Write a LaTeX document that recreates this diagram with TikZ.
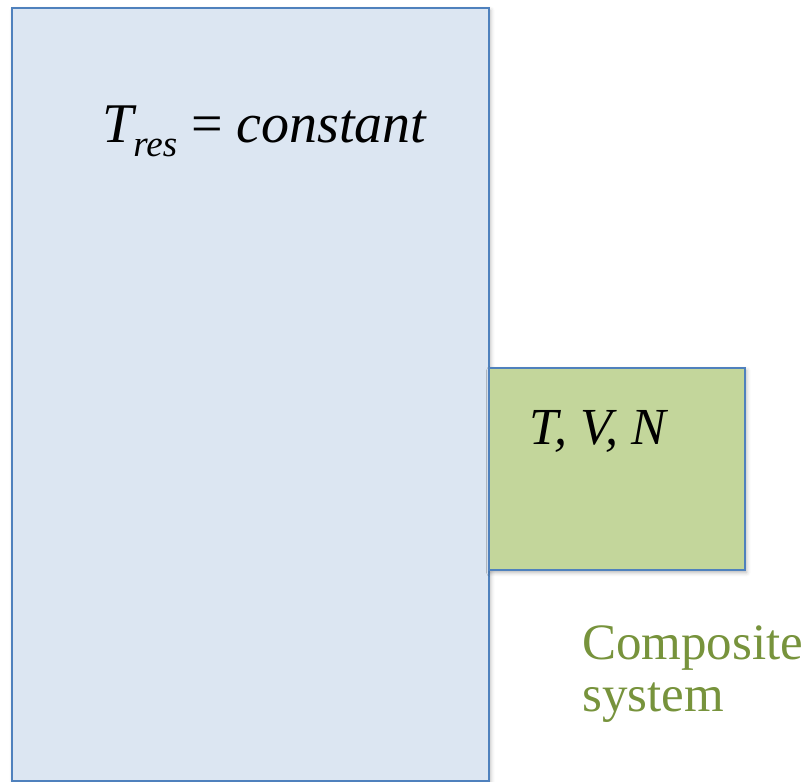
\documentclass[tikz,border=0pt]{standalone}
\usepackage{fontspec}
\setmainfont{Liberation Serif}
\usetikzlibrary{shadows.blur}
\definecolor{resfill}{HTML}{DCE6F2}
\definecolor{edgeblue}{HTML}{4F81BD}
\definecolor{sysfill}{HTML}{C3D69B}
\definecolor{labgreen}{HTML}{77933C}
\tikzset{
  box/.style={draw=edgeblue, line width=2pt, inner sep=0pt, anchor=north west, blur shadow={shadow xshift=1.5pt, shadow yshift=-2.5pt, shadow blur radius=4pt, shadow opacity=30}},
  lab/.style={inner sep=0pt, anchor=base west},
}
\begin{document}
\begin{tikzpicture}[x=1pt,y=1pt]
\useasboundingbox (0,0) rectangle (805,781);
\node[box, fill=resfill, minimum width=477pt, minimum height=773pt] (res) at (11,774) {};
\node[box, fill=sysfill, minimum width=256pt, minimum height=202pt] (sys) at (488,414) {};
\node[lab, font=\fontsize{56}{60}\selectfont\itshape] (tres) at (102,638) {T\raisebox{-0.25em}{\fontsize{37}{40}\selectfont res} \upshape=\itshape{} constant};
\node[lab, font=\fontsize{52}{60}\selectfont\itshape] (tvn) at (529,336) {T, V, N};
\node[lab, text=labgreen, align=left, font=\fontsize{51}{52}\selectfont] (comp) at (582,69) {Composite\\system};
\end{tikzpicture}
\end{document}
